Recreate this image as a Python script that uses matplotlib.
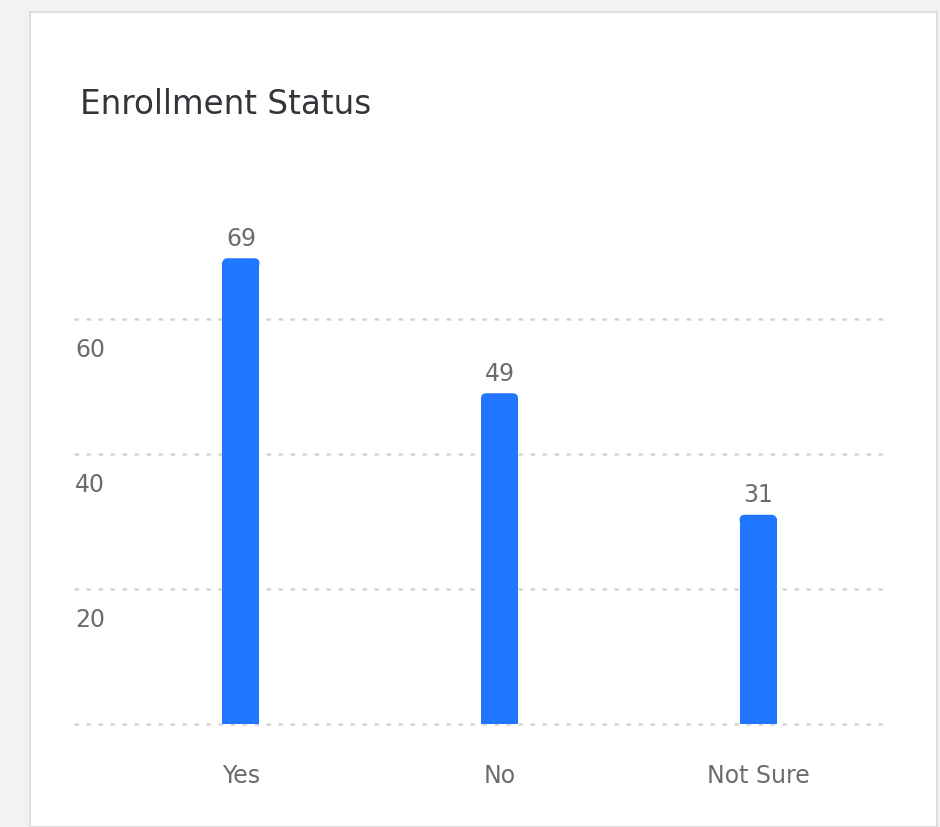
import matplotlib.pyplot as plt
from matplotlib.patches import Rectangle, FancyBboxPatch

# Data
categories = ['Yes', 'No', 'Not Sure']
counts = [69, 49, 31]
y_ticks = [0, 20, 40, 60]
y_tick_labels = ['', '20', '40', '60']
title = 'Enrollment Status'

W, H = 940, 828
bar_color = '#2176ff'
text_gray = '#6a6d70'
grid_gray = '#d2d2d2'

plt.rcParams['font.family'] = ['DejaVu Sans']

fig = plt.figure(figsize=(W / 100, H / 100), dpi=100)
fig.patch.set_facecolor('#f2f2f2')

# white card behind the chart
card = Rectangle((30 / W, 0), (937 - 30) / W, (H - 13) / H, transform=fig.transFigure,
                 facecolor='white', edgecolor='#d9d9d9', linewidth=1.2, zorder=-5)
fig.patches.append(card)

fig.text(80 / W, 1 - 105 / H, title, fontsize=23.5, color='#32363a', va='center', ha='left')

# axes: x 75..885 px, y 185..725 px
ax = fig.add_axes([75 / W, 1 - 725 / H, 810 / W, 540 / H])
ax.set_facecolor('none')
ax.set_zorder(2)
for s in ax.spines.values():
    s.set_visible(False)

x = list(range(len(categories)))
bw = 0.143
for xi, v in zip(x, counts):
    # bar body + slightly rounded top
    ax.add_patch(Rectangle((xi - bw / 2, 0), bw, v - 0.5, facecolor=bar_color,
                           edgecolor='none', zorder=3))
    ax.add_patch(FancyBboxPatch((xi - bw / 2, v - 1.5), bw, 1.5,
                                boxstyle='round,pad=0,rounding_size=0.02',
                                mutation_aspect=258.5 / 6.75,
                                facecolor=bar_color, edgecolor='none', zorder=3))
    ax.text(xi, v + 3.0, str(v), ha='center', va='center', fontsize=17, color=text_gray)

ax.set_xlim(-0.642, 2.491)
ax.set_ylim(0, 80)
ax.set_xticks(x)
ax.set_xticklabels(categories, fontsize=17, color=text_gray)
ax.tick_params(axis='x', length=0, pad=28)
ax.set_yticks([])

for yv, lab in zip(y_ticks, y_tick_labels):
    ax.axhline(yv, color=grid_gray, linewidth=1.8, linestyle=(0, (1, 3.8)),
               dash_capstyle='round', zorder=1, clip_on=False)
    if lab:
        ax.text(0.0, yv - 4.5, lab, transform=ax.get_yaxis_transform(),
                ha='left', va='center', fontsize=17, color=text_gray)

fig.savefig('out.png', dpi=100, facecolor=fig.get_facecolor())
